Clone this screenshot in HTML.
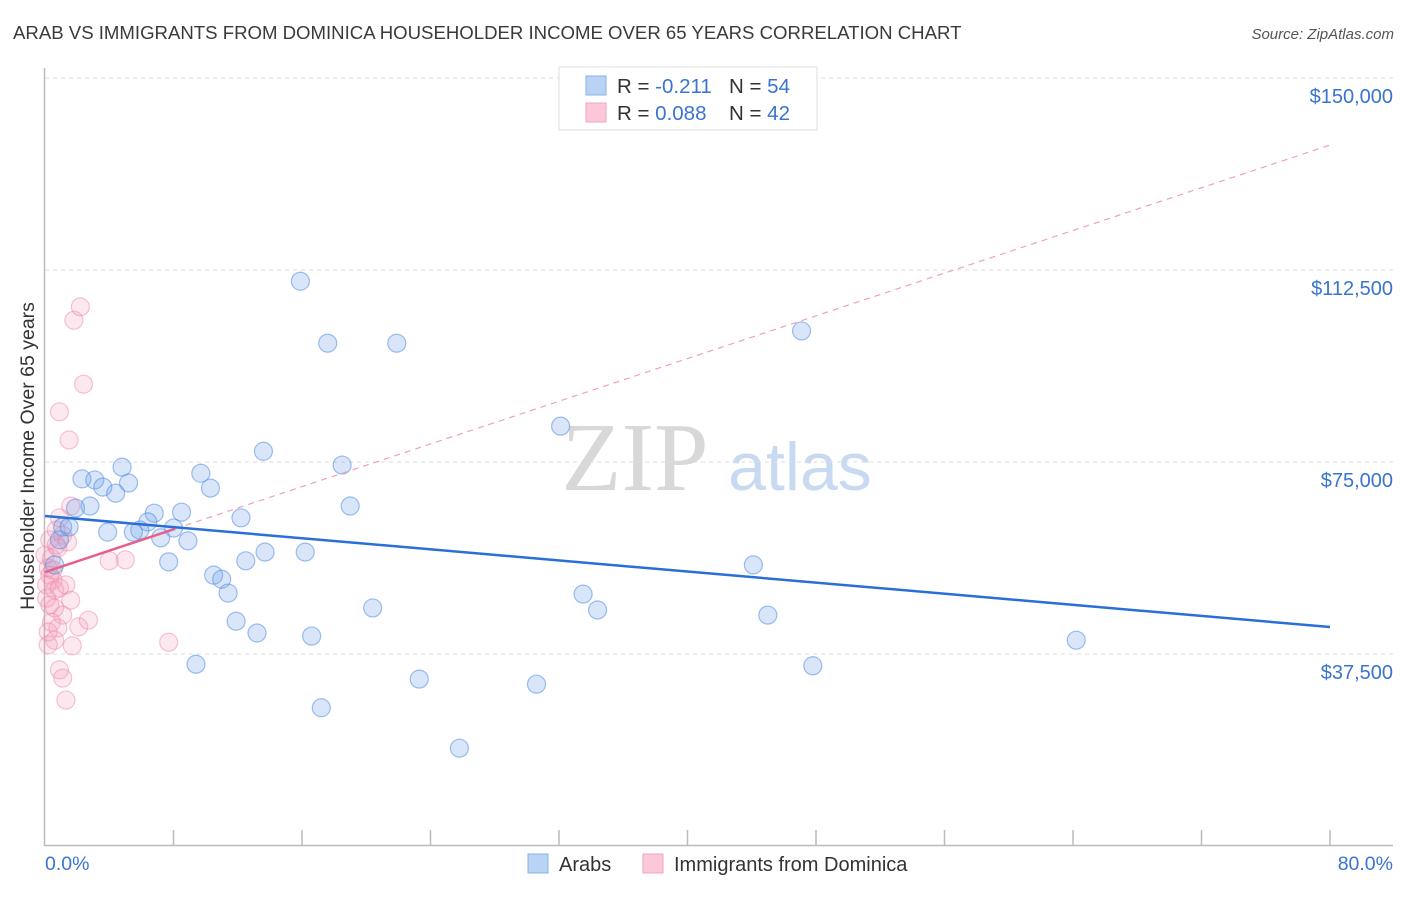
<!DOCTYPE html>
<html><head><meta charset="utf-8"><style>
body{margin:0;background:#fff;font-family:"Liberation Sans",sans-serif;}
svg text{font-family:"Liberation Sans",sans-serif;}
</style></head><body>
<svg id="chart" width="1406" height="892" viewBox="0 0 1406 892" xmlns="http://www.w3.org/2000/svg">
<text x="13" y="39" font-size="18.6" fill="#3a3a3a">ARAB VS IMMIGRANTS FROM DOMINICA HOUSEHOLDER INCOME OVER 65 YEARS CORRELATION CHART</text>
<text x="1394" y="39" font-size="15" fill="#555" font-style="italic" text-anchor="end">Source: ZipAtlas.com</text>
<g>
<text x="635" y="490" font-size="98" fill="#d8d8d8" text-anchor="middle" font-family="Liberation Serif, serif" style="font-family:'Liberation Serif',serif">ZIP</text>
<text x="800" y="490" font-size="68" fill="#c8daf2" text-anchor="middle">atlas</text>
</g>
<g id="grid"></g>
<line x1="44.5" y1="68" x2="44.5" y2="846" stroke="#bbb" stroke-width="1.5"/>
<line x1="44" y1="845.5" x2="1393" y2="845.5" stroke="#bbb" stroke-width="1.5"/>
<g id="xticks"></g>
<text transform="translate(34,456) rotate(-90)" font-size="19.5" fill="#333" text-anchor="middle">Householder Income Over 65 years</text>
<text x="45" y="870" font-size="19.5" fill="#3a74d0">0.0%</text>
<text x="1393" y="870" font-size="19.5" fill="#3a74d0" text-anchor="end">80.0%</text>
<g id="points"></g>
<g id="lines"></g>
<g>
<rect x="559" y="67" width="258" height="63" fill="#fff" stroke="#ddd"/>
<rect x="586" y="76" width="20" height="19" fill="#b9d3f5" stroke="#8ab0e8"/>
<rect x="586" y="103" width="20" height="19" fill="#fcc7d6" stroke="#f0a5bc"/>
<text x="617" y="93" font-size="20.5" fill="#333">R = <tspan fill="#3a74d0">-0.211</tspan></text>
<text x="729" y="93" font-size="20.5" fill="#333">N = <tspan fill="#3a74d0">54</tspan></text>
<text x="617" y="120" font-size="20.5" fill="#333">R = <tspan fill="#3a74d0">0.088</tspan></text>
<text x="729" y="120" font-size="20.5" fill="#333">N = <tspan fill="#3a74d0">42</tspan></text>
</g>
<g>
<rect x="528" y="854" width="20" height="19" fill="#b9d3f5" stroke="#8ab0e8"/>
<text x="559" y="871" font-size="20" fill="#333">Arabs</text>
<rect x="643" y="854" width="20" height="19" fill="#fcc7d6" stroke="#f0a5bc"/>
<text x="674" y="871" font-size="20" fill="#333">Immigrants from Dominica</text>
</g>
</svg>
<script>
const yTicks=[37500,75000,112500,150000];
const yTickLabels=["$37,500","$75,000","$112,500","$150,000"];
const arabX=[15.9,17.6,21.9,47.1,32.1,13.6,18.5,4.8,2.3,3.1,3.6,5.2,4.4,9.7,10.3,2.8,1.9,19.0,6.8,8.5,12.2,6.4,8.0,1.1,1.5,5.9,3.9,5.5,7.2,8.9,16.2,13.7,12.5,7.7,44.1,10.5,11.0,11.4,33.5,20.4,34.4,45.0,11.9,13.2,16.6,64.2,9.4,47.8,23.3,30.6,17.2,25.8,0.6,0.9];
const arabY=[110.3,98.2,98.2,100.6,82.0,77.1,74.4,74.0,71.7,71.5,70.1,70.9,68.9,72.8,69.9,66.4,66.0,66.4,65.0,65.2,64.1,63.3,62.1,62.3,62.3,61.7,61.3,61.3,60.2,59.6,57.4,57.4,55.7,55.5,54.9,52.9,52.1,49.4,49.2,46.5,46.1,45.1,43.9,41.6,41.0,40.2,35.5,35.2,32.6,31.6,27.0,19.1,54.9,59.8];
const domX=[2.2,1.8,2.4,0.9,1.5,1.6,0.9,0.7,1.1,0.3,0.8,1.4,0.4,0.2,0.3,0.5,0.1,0.6,0.9,0.1,0.3,0.6,1.1,0.4,0.8,0.2,0.6,0.2,1.7,2.1,2.7,1.3,4.0,5.0,7.7,0.9,1.1,1.3,0.7,0.0,1.6,0.5];
const domY=[105.3,102.7,90.2,84.8,79.3,66.4,64.1,61.7,60.7,59.8,58.2,59.4,56.2,54.3,52.9,51.9,51.0,50.0,50.4,48.4,47.1,46.5,45.1,43.7,42.6,41.8,40.2,39.3,39.1,42.8,44.1,51.0,55.7,55.9,39.8,34.4,32.8,28.5,58.8,56.8,48.0,53.9];
const arabTrend=[64.45,42.77];
const domTrend=[53.51,136.9];
const domSolidEnd=8.1;
const NS="http://www.w3.org/2000/svg";
const sx=v=>45+v*(1285/80);
const sy=v=>846-v*1000/195.3125;
function mk(tag,attrs,parent){const e=document.createElementNS(NS,tag);for(const k in attrs)e.setAttribute(k,attrs[k]);document.getElementById(parent).appendChild(e);return e;}
yTicks.forEach((t,i)=>{
 const g=mk('line',{x1:45,x2:1393,y1:sy(t/1000),y2:sy(t/1000),stroke:'#ddd','stroke-dasharray':'4,4'},'grid');
 
 
 const l=mk('text',{x:1393,y:sy(t/1000)+25,'font-size':20,fill:'#3a74d0','text-anchor':'end'},'grid');
 l.textContent=yTickLabels[i];
 
 
});
for(let i=1;i<=10;i++){
 const x=sx(i*8);
 const t=mk('line',{x1:x,x2:x,y1:830,y2:846,stroke:'#bbb','stroke-width':1.5},'xticks');
 
 
}
domX.forEach((x,i)=>{
 const c=mk('circle',{cx:sx(x),cy:sy(domY[i]),r:9,fill:'rgba(245,150,180,0.22)',stroke:'rgba(235,140,170,0.5)','stroke-width':1.2},'points');
 
 
});
arabX.forEach((x,i)=>{
 const c=mk('circle',{cx:sx(x),cy:sy(arabY[i]),r:9,fill:'rgba(120,165,235,0.28)',stroke:'rgba(80,140,225,0.55)','stroke-width':1.2},'points');
 
 
});
const dy=x=>domTrend[0]+(domTrend[1]-domTrend[0])*x/80;
let l1=mk('line',{x1:sx(domSolidEnd),y1:sy(dy(domSolidEnd)),x2:sx(80),y2:sy(dy(80)),stroke:'#f0a0b8','stroke-width':1.2,'stroke-dasharray':'6,5'},'lines');


let l2=mk('line',{x1:sx(0),y1:sy(dy(0)),x2:sx(domSolidEnd),y2:sy(dy(domSolidEnd)),stroke:'#e8608a','stroke-width':2.5},'lines');


let l3=mk('line',{x1:sx(0),y1:sy(arabTrend[0]),x2:sx(80),y2:sy(arabTrend[1]),stroke:'#2a6fd6','stroke-width':2.5},'lines');


</script>
</body></html>
